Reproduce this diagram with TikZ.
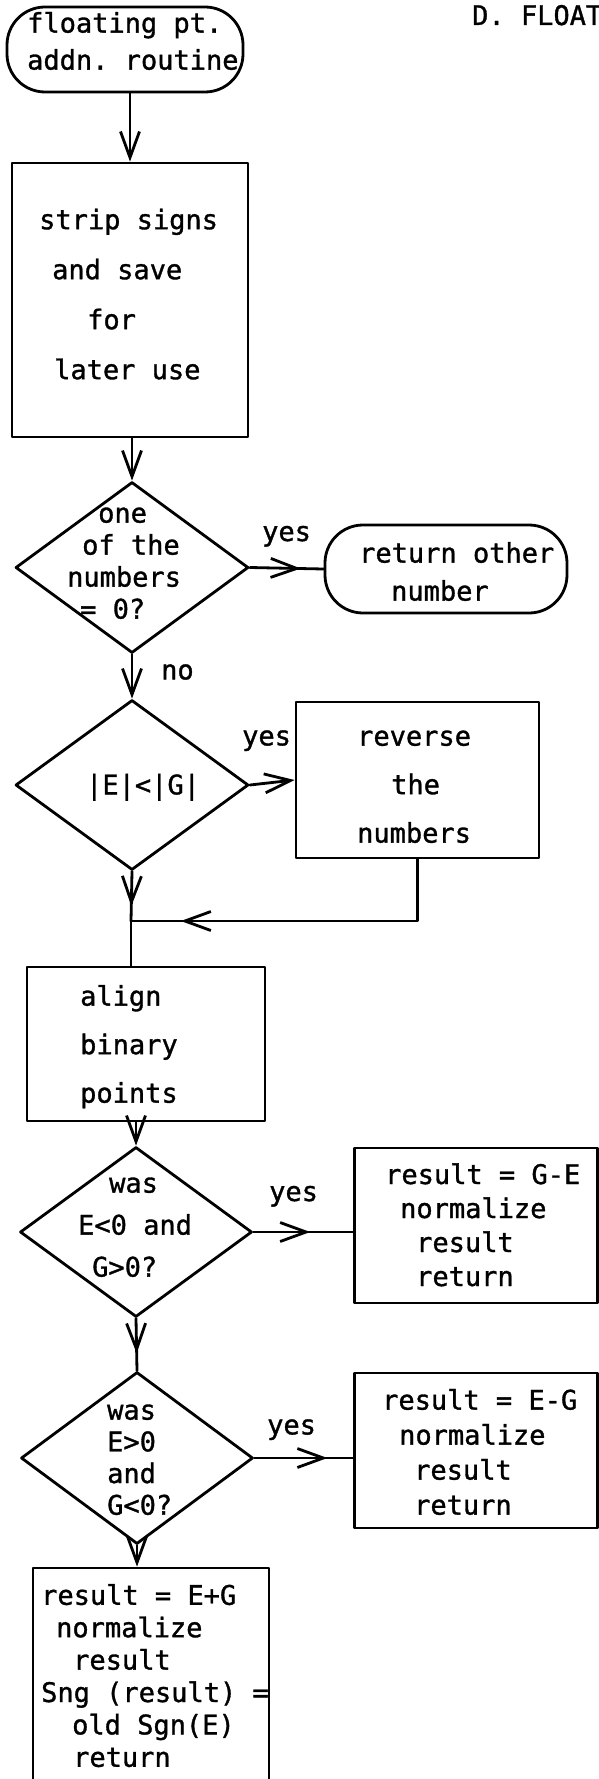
\documentclass[tikz,border=0pt]{standalone}
\usepackage{fontspec}
\newfontfamily\twfam[FakeBold=1.2]{DejaVu Sans Mono}
\usetikzlibrary{arrows.meta,decorations.markings,shapes.geometric}
\newcommand\twf[1]{\twfam\fontsize{27pt}{#1pt}\selectfont\frenchspacing}
\newcommand\ind[1]{\hspace*{#1pt}}
\tikzset{
  ln/.style={line width=2.8pt, line cap=round, line join=round},
  bv/.tip={Straight Barb[length=26pt,width=19pt]},
  arr/.style={ln, -bv},
  midarr/.style={ln, postaction={decorate}, decoration={markings, mark=at position #1 with {\arrow{bv}}}},
  box/.style={draw, ln, rectangle, inner sep=0pt},
  term/.style={draw, ln, rectangle, rounded corners=38pt, inner sep=0pt},
  dia/.style={draw, ln, diamond, inner sep=0pt},
  tx/.style={anchor=north west, align=left, inner sep=0pt},
  lb/.style={anchor=base west, inner sep=0pt, font=\twf{30}},
}
\begin{document}
\begin{tikzpicture}[x=1pt,y=-1pt]
\useasboundingbox (0,0) rectangle (599,1779);
\clip (0,0) rectangle (599,1779);

\node[term, minimum width=236pt, minimum height=85pt] (start) at (125,49.5) {};
\node[tx, font=\twf{37}] (startT) at (27,6.5) {\strut floating pt.\\\strut addn. routine};
\node[lb] (title) at (472,25) {D. FLOAT};

\node[box, minimum width=236pt, minimum height=274pt] (box1) at (130,300) {};
\node[tx, font=\twf{50}] (box1T) at (39,194) {\strut strip signs\\\strut\ind{13}and save\\\strut\ind{48}for\\\strut\ind{15}later use};

\node[dia, minimum width=233pt, minimum height=171pt] (d1) at (132,567.5) {};
\node[tx, font=\twf{32}] (d1T) at (67,500) {\strut\ind{31}one\\\strut\ind{15}of the\\\strut numbers\\\strut\ind{13}= 0?};

\node[term, minimum width=242pt, minimum height=88pt] (t2) at (446,569) {};
\node[tx, font=\twf{38}] (t2T) at (359,535.8) {\strut return other\\\strut\ind{32}number};
\node[lb] (yes1) at (262,541) {yes};
\node[lb] (no1) at (161,679.4) {no};

\node[dia, minimum width=233pt, minimum height=170pt] (d2) at (132,785) {};
\node[lb] (d2T) at (86,794.4) {|E|<|G|};
\node[lb] (yes2) at (242,745.4) {yes};

\node[box, minimum width=243pt, minimum height=156pt] (rev) at (417.5,780) {};
\node[tx, font=\twf{48.5}] (revT) at (357,711.5) {\strut reverse\\\strut\ind{34}the\\\strut numbers};

\coordinate (jn) at (131,921);

\node[box, minimum width=238pt, minimum height=154pt] (align) at (146,1044) {};
\node[tx, font=\twf{48.5}] (alignT) at (80,971.5) {\strut align\\\strut binary\\\strut points};

\node[dia, minimum width=232pt, minimum height=170pt] (d3) at (136,1232) {};
\node[tx, font=\twf{42}] (d3T) at (78,1163) {\strut\ind{31}was\\\strut E<0 and\\\strut\ind{14}G>0?};
\node[lb] (yes3) at (269,1201) {yes};

\node[box, minimum width=243pt, minimum height=155pt] (ge) at (476,1225.5) {};
\node[tx, font=\twf{34}] (geT) at (385,1160) {\strut result = G-E\\\strut\ind{15}normalize\\\strut\ind{31}result\\\strut\ind{31}return};

\node[dia, minimum width=232pt, minimum height=172pt] (d4) at (137,1458) {};
\node[tx, font=\twf{31.7}] (d4T) at (107,1397.2) {\strut was\\\strut E>0\\\strut and\\\strut G<0?};
\node[lb] (yes4) at (267,1434.4) {yes};

\node[box, minimum width=243pt, minimum height=155pt] (eg) at (476,1450.5) {};
\node[tx, font=\twf{35}] (egT) at (382,1384.9) {\strut result = E-G\\\strut\ind{17}normalize\\\strut\ind{32}result\\\strut\ind{32}return};

\node[box, minimum width=236pt, minimum height=232pt] (fin) at (151,1684) {};
\node[tx, font=\twf{32.4}] (finT) at (41,1581.9) {\strut result = E+G\\\strut\ind{15}normalize\\\strut\ind{32}result\\\strut Sng (result) =\\\strut\ind{31}old Sgn(E)\\\strut\ind{32}return};

% connectors
\draw[arr] (box1.north |- start.south) -- (box1.north);
\draw[arr] (d1.north |- box1.south) -- (d1.north);
\draw[midarr=0.69] (d1.east) -- (t2.west);
\draw[arr] (d1.south) -- (d2.north);
\draw[arr] (d2.east) -- (rev.west);
\draw[midarr=0.857] (rev.south) -- (rev.south |- jn) -- (jn);
\draw[midarr=0.7] (d2.south) -- (jn);
\draw[ln] (jn) -- (jn |- align.north);
\draw[arr] (d3.north |- align.south) -- (d3.north);
\draw[midarr=0.57] (d3.east) -- (d3.east -| ge.west);
\draw[midarr=0.67] (d3.south) -- (d4.north);
\draw[midarr=0.74] (d4.east) -- (d4.east -| eg.west);
\draw[arr] (d4.south) -- (d4.south |- fin.north);
\end{tikzpicture}
\end{document}
